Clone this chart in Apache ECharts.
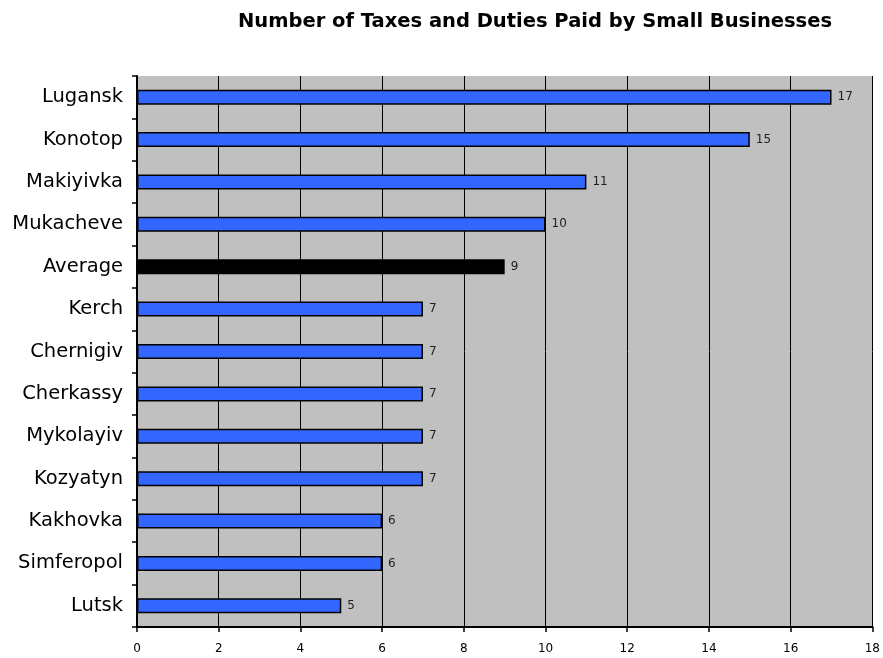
<!DOCTYPE html>
<html>
<head>
<meta charset="utf-8">
<script src="https://cdn.jsdelivr.net/npm/echarts@6/dist/echarts.min.js"></script>
<style>
html,body{margin:0;padding:0;background:#fff;}
#chart{width:883px;height:658px;}
</style>
</head>
<body>
<div id="chart"></div>
<script>
const categories = ['Lugansk','Konotop','Makiyivka','Mukacheve','Average','Kerch','Chernigiv','Cherkassy','Mykolayiv','Kozyatyn','Kakhovka','Simferopol','Lutsk'];
const values = [17, 15, 11, 10, 9, 7, 7, 7, 7, 7, 6, 6, 5];
const highlight = 'Average';
const xTicks = [0, 2, 4, 6, 8, 10, 12, 14, 16, 18];

const chart = echarts.init(document.getElementById('chart'));
chart.setOption({
  animation: false,
  backgroundColor: '#ffffff',
  title: {
    text: 'Number of Taxes and Duties Paid by Small Businesses',
    left: 530, textAlign: 'center', top: 7,
    textStyle: {fontFamily: 'DejaVu Sans', fontWeight: 'bold', fontSize: 19.5, color: '#000'}
  },
  grid: {left: 137, right: 5, top: 76, bottom: 31, show: true, backgroundColor: '#C0C0C0', borderWidth: 0},
  xAxis: {
    type: 'value', min: xTicks[0], max: xTicks[xTicks.length-1], interval: 2,
    axisLine: {show: true, lineStyle: {color: '#000', width: 2}},
    axisTick: {show: true, length: 5, lineStyle: {color: '#000', width: 1.5}},
    axisLabel: {margin: 16, fontFamily: 'DejaVu Sans', fontSize: 12, color: '#000'},
    splitLine: {show: true, lineStyle: {color: '#000', width: 1}}
  },
  yAxis: {
    type: 'category', data: categories, inverse: true,
    axisLine: {show: true, lineStyle: {color: '#000', width: 2}},
    axisTick: {show: true, length: 5, lineStyle: {color: '#000', width: 1.5}},
    axisLabel: {margin: 14, fontFamily: 'DejaVu Sans', fontSize: 19.5, color: '#000'},
    splitLine: {show: false}
  },
  series: [{
    type: 'bar',
    barWidth: 15,
    data: values.map((v, i) => ({
      value: v,
      itemStyle: {color: categories[i] === highlight ? '#000000' : '#3366FF'}
    })),
    itemStyle: {borderColor: '#000', borderWidth: 1.5},
    label: {show: true, position: 'right', distance: 6, fontFamily: 'DejaVu Sans', fontSize: 12, color: '#222'}
  }]
});
</script>
</body>
</html>
